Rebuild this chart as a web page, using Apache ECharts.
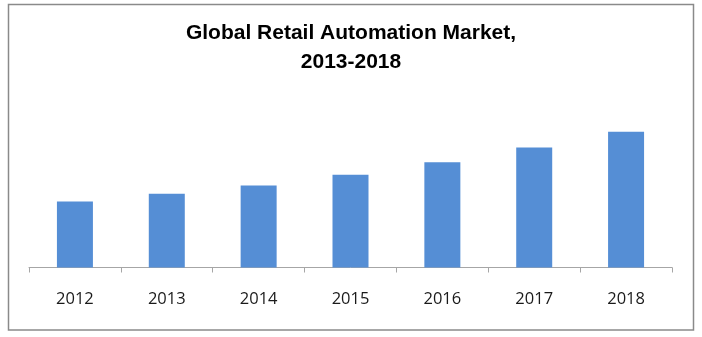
<!DOCTYPE html>
<html>
<head>
<meta charset="utf-8">
<script src="https://cdn.jsdelivr.net/npm/echarts@6/dist/echarts.min.js"></script>
<style>
html,body{margin:0;padding:0;background:#fff;}
#chart{width:702px;height:337px;}
</style>
</head>
<body>
<div id="chart"></div>
<script>
var titleLines = ['Global Retail Automation Market,', '2013-2018'];
var categories = ['2012', '2013', '2014', '2015', '2016', '2017', '2018'];
var marketValues = [6.6, 7.37, 8.2, 9.27, 10.53, 12.0, 13.57];
var yMax = 20;

var chart = echarts.init(document.getElementById('chart'), null, {renderer: 'canvas'});
chart.setOption({
  animation: false,
  backgroundColor: '#ffffff',
  title: {
    text: titleLines.join('\n'),
    left: 'center',
    top: 14,
    textStyle: {
      fontFamily: 'Liberation Sans',
      fontWeight: 'bold',
      fontSize: 21,
      color: '#000000',
      lineHeight: 29
    }
  },
  graphic: [{
    type: 'rect',
    shape: {x: 8.5, y: 4.5, width: 685, height: 325.5},
    style: {fill: 'none', stroke: '#8a8a8a', lineWidth: 1.5},
    silent: true
  }],
  grid: {left: 29, right: 30, top: 67.5, bottom: 69.5, containLabel: false},
  xAxis: {
    type: 'category',
    data: categories,
    axisLine: {show: true, lineStyle: {color: '#a6a6a6', width: 1}},
    axisTick: {show: true, length: 5, lineStyle: {color: '#a6a6a6'}},
    axisLabel: {
      margin: 23,
      fontFamily: 'Open Sans',
      fontSize: 16.5,
      color: '#1a1a1a'
    }
  },
  yAxis: {
    type: 'value',
    min: 0,
    max: yMax,
    show: false,
    splitLine: {show: false}
  },
  series: [{
    type: 'bar',
    data: marketValues,
    barWidth: 36,
    itemStyle: {color: '#558ed5'}
  }]
});
</script>
</body>
</html>
